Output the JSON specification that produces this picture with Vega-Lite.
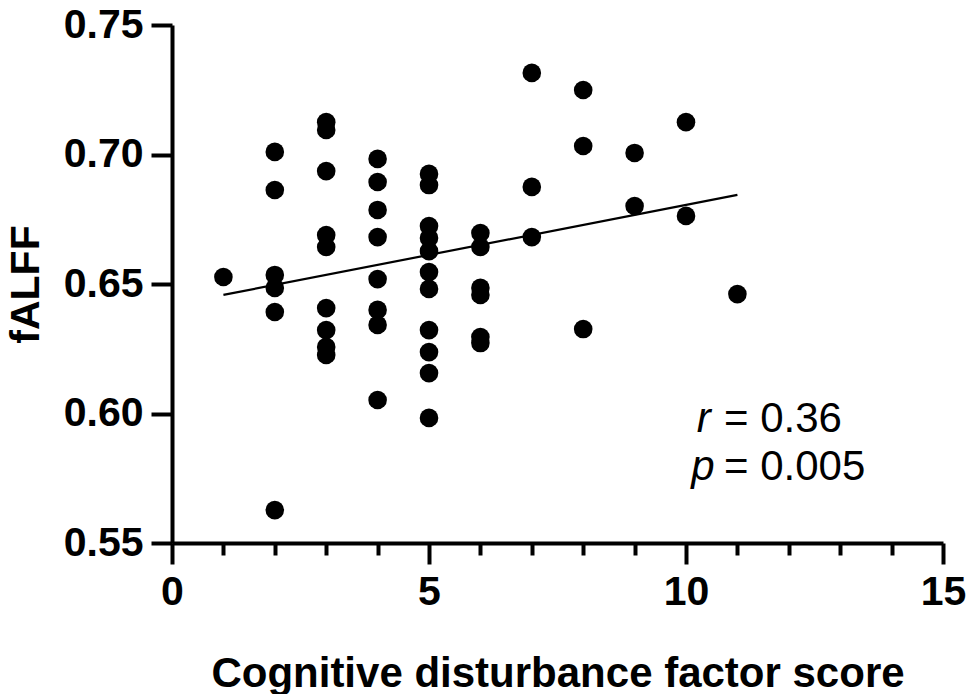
{
  "$schema": "https://vega.github.io/schema/vega-lite/v6.json",
  "width": 771,
  "height": 518,
  "autosize": {"type": "none"},
  "padding": {"left": 172, "top": 25, "right": 27, "bottom": 151},
  "background": "white",
  "config": {
    "view": {"stroke": null},
    "font": "Liberation Sans",
    "axis": {"grid": false, "domainColor": "black", "tickColor": "black", "labelColor": "black", "titleColor": "black"}
  },
  "resolve": {"axis": {"x": "independent"}},
  "layer": [
    {
      "data": {
        "values": [
          {"score": 1, "fALFF": 0.6527},
          {"score": 2, "fALFF": 0.7010}, {"score": 2, "fALFF": 0.6863}, {"score": 2, "fALFF": 0.6535},
          {"score": 2, "fALFF": 0.6485}, {"score": 2, "fALFF": 0.6392}, {"score": 2, "fALFF": 0.5627},
          {"score": 3, "fALFF": 0.7125}, {"score": 3, "fALFF": 0.7095}, {"score": 3, "fALFF": 0.6936},
          {"score": 3, "fALFF": 0.6689}, {"score": 3, "fALFF": 0.6643}, {"score": 3, "fALFF": 0.6407},
          {"score": 3, "fALFF": 0.6322}, {"score": 3, "fALFF": 0.6257}, {"score": 3, "fALFF": 0.6226},
          {"score": 4, "fALFF": 0.6983}, {"score": 4, "fALFF": 0.6894}, {"score": 4, "fALFF": 0.6786},
          {"score": 4, "fALFF": 0.6681}, {"score": 4, "fALFF": 0.6519}, {"score": 4, "fALFF": 0.6400},
          {"score": 4, "fALFF": 0.6342}, {"score": 4, "fALFF": 0.6052},
          {"score": 5, "fALFF": 0.6925}, {"score": 5, "fALFF": 0.6882}, {"score": 5, "fALFF": 0.6724},
          {"score": 5, "fALFF": 0.6678}, {"score": 5, "fALFF": 0.6627}, {"score": 5, "fALFF": 0.6546},
          {"score": 5, "fALFF": 0.6481}, {"score": 5, "fALFF": 0.6322}, {"score": 5, "fALFF": 0.6237},
          {"score": 5, "fALFF": 0.6156}, {"score": 5, "fALFF": 0.5983},
          {"score": 6, "fALFF": 0.6697}, {"score": 6, "fALFF": 0.6643}, {"score": 6, "fALFF": 0.6485},
          {"score": 6, "fALFF": 0.6458}, {"score": 6, "fALFF": 0.6295}, {"score": 6, "fALFF": 0.6272},
          {"score": 7, "fALFF": 0.7315}, {"score": 7, "fALFF": 0.6875}, {"score": 7, "fALFF": 0.6681},
          {"score": 8, "fALFF": 0.7249}, {"score": 8, "fALFF": 0.7033}, {"score": 8, "fALFF": 0.6326},
          {"score": 9, "fALFF": 0.7006}, {"score": 9, "fALFF": 0.6801},
          {"score": 10, "fALFF": 0.7125}, {"score": 10, "fALFF": 0.6763},
          {"score": 11, "fALFF": 0.6461}
        ]
      },
      "mark": {"type": "circle", "size": 346, "opacity": 1, "color": "black"},
      "encoding": {
        "x": {
          "field": "score", "type": "quantitative",
          "scale": {"domain": [0, 15], "nice": false, "zero": false},
          "axis": {
            "orient": "bottom",
            "values": [0, 5, 10, 15],
            "tickSize": 21, "tickWidth": 4, "domainWidth": 4,
            "labelFontSize": 41, "labelFontWeight": "bold", "labelPadding": 8,
            "labelFlush": false, "labelOverlap": false,
            "title": "Cognitive disturbance factor score",
            "titleFontSize": 42, "titleFontWeight": "bold", "titlePadding": 41
          }
        },
        "y": {
          "field": "fALFF", "type": "quantitative",
          "scale": {"domain": [0.55, 0.75], "nice": false, "zero": false},
          "axis": {
            "values": [0.55, 0.6, 0.65, 0.7, 0.75],
            "format": ".2f",
            "tickSize": 21, "tickWidth": 4, "domainWidth": 4,
            "labelFontSize": 41, "labelFontWeight": "bold", "labelPadding": 8,
            "labelFlush": false, "labelOverlap": false,
            "title": "fALFF",
            "titleFontSize": 41, "titleFontWeight": "bold", "titlePadding": 16
          }
        }
      }
    },
    {
      "data": {"values": [{"score": 1, "fALFF": 0.6458}, {"score": 11, "fALFF": 0.6844}]},
      "mark": {"type": "line", "color": "black", "strokeWidth": 2.2},
      "encoding": {
        "x": {
          "field": "score", "type": "quantitative",
          "axis": {
            "orient": "bottom",
            "values": [1, 2, 3, 4, 6, 7, 8, 9, 11, 12, 13, 14],
            "labels": false, "domain": false, "title": null,
            "tickSize": 12, "tickWidth": 4
          }
        },
        "y": {"field": "fALFF", "type": "quantitative"}
      }
    },
    {
      "data": {"values": [{"score": 10.21, "fALFF": 0.5929, "label": "r"}, {"score": 10.1, "fALFF": 0.5743, "label": "p"}]},
      "mark": {"type": "text", "font": "Liberation Sans", "fontSize": 42, "fontStyle": "italic", "align": "left", "baseline": "alphabetic", "color": "black"},
      "encoding": {
        "x": {"field": "score", "type": "quantitative", "axis": null},
        "y": {"field": "fALFF", "type": "quantitative"},
        "text": {"field": "label"}
      }
    },
    {
      "data": {"values": [{"score": 10.74, "fALFF": 0.5929, "label": "= 0.36"}, {"score": 10.74, "fALFF": 0.5743, "label": "= 0.005"}]},
      "mark": {"type": "text", "font": "Liberation Sans", "fontSize": 42, "align": "left", "baseline": "alphabetic", "color": "black"},
      "encoding": {
        "x": {"field": "score", "type": "quantitative", "axis": null},
        "y": {"field": "fALFF", "type": "quantitative"},
        "text": {"field": "label"}
      }
    }
  ]
}
